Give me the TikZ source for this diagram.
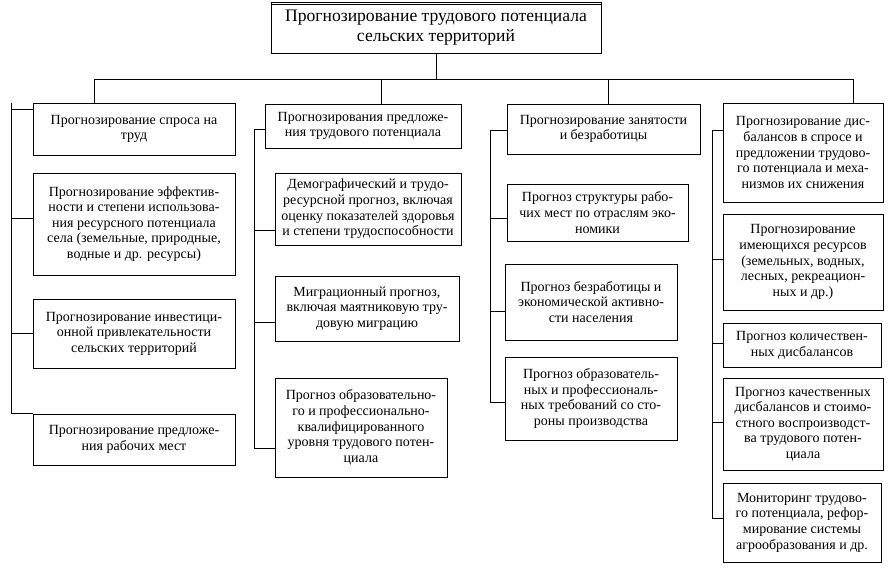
\documentclass[tikz,border=0pt]{standalone}
\usepackage{fontspec}
\setmainfont{Liberation Serif}
\usetikzlibrary{positioning, calc}

\newcommand{\boxfont}{\fontsize{14}{15.6}\selectfont}
\newcommand{\topfont}{\fontsize{17.6}{19.5}\selectfont}

\tikzset{
  blk/.style={draw, align=center, inner sep=1pt, font=\boxfont},
  topblk/.style={draw, align=center, inner sep=1pt, font=\topfont},
  link/.style={line width=0.9pt}
}

\begin{document}
\begin{tikzpicture}[x=1pt, y=-1pt, line width=0.9pt]
  \useasboundingbox (0,0) rectangle (893,574);
  % root
  \node[topblk, minimum width=330, minimum height=51] (top) at (436,27.5)
    {Прогнозирование трудового потенциала\\сельских территорий};
  \draw ([yshift=-2.5pt]top.north west) -- ([yshift=-2.5pt]top.north east);

  % column 1
  \node[blk, minimum width=202, minimum height=52] (b11) at (134,129)
    {Прогнозирование спроса на\\труд};
  \node[blk, minimum width=202, minimum height=102] (b12) at (134,224)
    {Прогнозирование эффектив-\\ности и степени использова-\\ния ресурсного потенциала\\села (земельные, природные,\\водные и др. ресурсы)};
  \node[blk, minimum width=202, minimum height=69] (b13) at (134,333.5)
    {Прогнозирование инвестици-\\онной привлекательности\\сельских территорий};
  \node[blk, minimum width=202, minimum height=51] (b14) at (134,439.5)
    {Прогнозирование предложе-\\ния рабочих мест};

  % column 2
  \node[blk, minimum width=196, minimum height=44] (b21) at (363,126)
    {Прогнозирования предложе-\\ния трудового потенциала};
  \node[blk, minimum width=186, minimum height=72] (b22) at (368,209)
    {Демографический и трудо-\\ресурсной прогноз, включая\\оценку показателей здоровья\\и степени трудоспособности};
  \node[blk, minimum width=184, minimum height=65] (b23) at (367,308.5)
    {Миграционный прогноз,\\включая маятниковую тру-\\довую миграцию};
  \node[blk, minimum width=172, minimum height=99] (b24) at (361,427.5)
    {Прогноз образовательно-\\го и профессионально-\\квалифицированного\\уровня трудового потен-\\циала};

  % column 3
  \node[blk, minimum width=193, minimum height=50] (b31) at (603.5,129)
    {Прогнозирование занятости\\и безработицы};
  \node[blk, minimum width=181, minimum height=57] (b32) at (597.5,212.5)
    {Прогноз структуры рабо-\\чих мест по отраслям эко-\\номики};
  \node[blk, minimum width=172, minimum height=76] (b33) at (591,302)
    {Прогноз безработицы и\\экономической активно-\\сти населения};
  \node[blk, minimum width=172, minimum height=83] (b34) at (591,398.5)
    {Прогноз образователь-\\ных и профессиональ-\\ных требований со сто-\\роны производства};

  % column 4
  \node[blk, minimum width=160, minimum height=99] (b41) at (803,152.5)
    {Прогнозирование дис-\\балансов в спросе и\\предложении трудово-\\го потенциала и меха-\\низмов их снижения};
  \node[blk, minimum width=160, minimum height=96] (b42) at (803,262)
    {Прогнозирование\\имеющихся ресурсов\\(земельных, водных,\\лесных, рекреацион-\\ных и др.)};
  \node[blk, minimum width=158, minimum height=44] (b43) at (802,345)
    {Прогноз количествен-\\ных дисбалансов};
  \node[blk, minimum width=160, minimum height=92] (b44) at (803,424)
    {Прогноз качественных\\дисбалансов и стоимо-\\стного воспроизводст-\\ва трудового потен-\\циала};
  \node[blk, minimum width=158, minimum height=79] (b45) at (802,522.5)
    {Мониторинг трудово-\\го потенциала, рефор-\\мирование системы\\агрообразования и др.};

  % bus from the root
  \coordinate (bus) at (0,79);
  \coordinate (d1) at (94,79);
  \coordinate (d2) at (381,79);
  \coordinate (d3) at (608,79);
  \coordinate (d4) at (853,79);
  \draw[link] (top.south) -- (top.south |- bus);
  \draw[link] (d1) -- (d4);
  \draw[link] (d1) -- (d1 |- b11.north);
  \draw[link] (d2) -- (d2 |- b21.north);
  \draw[link] (d3) -- (d3 |- b31.north);
  \draw[link] (d4) -- (d4 |- b41.north);

  % spines
  \coordinate (sp1) at (11,103);
  \coordinate (sp2) at (254,129);
  \coordinate (sp3) at (490,130);
  \coordinate (sp4) at (712,130);

  % column 1 links
  \draw[link] (sp1) |- (b14.north west);
  \draw[link] (sp1 |- 0,109) -- (b11.west |- 0,109);
  \draw[link] (sp1 |- 0,218) -- (b12.west |- 0,218);
  \draw[link] (sp1 |- 0,333) -- (b13.west |- 0,333);

  % column 2 links
  \draw[link] (b21.west |- sp2) -- (sp2) |- (b24.west |- 0,448);
  \draw[link] (sp2 |- 0,230) -- (b22.west |- 0,230);
  \draw[link] (sp2 |- 0,322) -- (b23.west |- 0,322);

  % column 3 links
  \draw[link] (b31.west |- sp3) -- (sp3) |- (b34.west |- 0,402);
  \draw[link] (sp3 |- 0,218) -- (b32.west |- 0,218);
  \draw[link] (sp3 |- 0,311) -- (b33.west |- 0,311);

  % column 4 links
  \draw[link] (b41.west |- sp4) -- (sp4) |- (b45.west |- 0,518);
  \draw[link] (sp4 |- 0,259) -- (b42.west |- 0,259);
  \draw[link] (sp4 |- 0,343) -- (b43.west |- 0,343);
  \draw[link] (sp4 |- 0,422) -- (b44.west |- 0,422);
\end{tikzpicture}
\end{document}
